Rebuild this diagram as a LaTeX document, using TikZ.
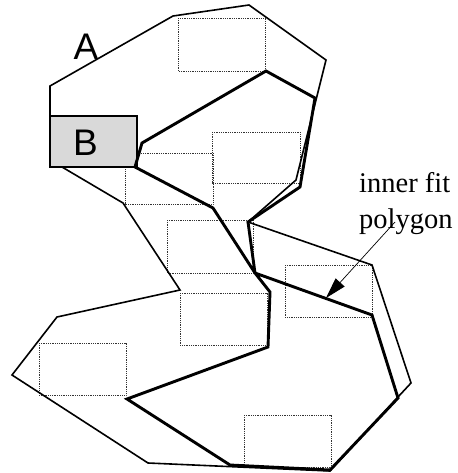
\documentclass[tikz,border=0pt]{standalone}
\usepackage{fontspec}
\setmainfont{Liberation Serif}
\newfontfamily\labelfont{Liberation Sans}
\usetikzlibrary{arrows.meta}
\begin{document}
\begin{tikzpicture}[x=1pt,y=-1pt,
  outline/.style={line width=1.6pt,line join=miter},
  fitpoly/.style={line width=2.9pt,line join=miter},
  slot/.style={draw=black!80,densely dotted,line width=0.8pt},
  bigletter/.style={font=\labelfont\fontsize{37}{44}\selectfont,inner sep=0pt,anchor=base},
  note/.style={font=\fontsize{28.5}{34}\selectfont,inner sep=0pt,anchor=base west}]
\useasboundingbox (0,0) rectangle (457,473);

% candidate placement slots
\draw[slot] (178,18) rectangle (265,71);
\draw[slot] (212,132) rectangle (300,183);
\draw[slot] (125,153) rectangle (213,204);
\draw[slot] (167,220) rectangle (253,273);
\draw[slot] (180,293) rectangle (267,345);
\draw[slot] (39,343) rectangle (126,395);
\draw[slot] (285,265) rectangle (372,317);
\draw[slot] (244,415) rectangle (331,467);

% container polygon A
\draw[outline] (50,86) -- (173,16) -- (249,5) -- (326,60) -- (296,180)
  -- (248,222) -- (372,265) -- (411,383) -- (398,397) -- (330,471)
  -- (148,463) -- (12,375) -- (57,317) -- (180,290) -- (123,203)
  -- (62,167) -- (50,167) -- cycle;

% piece B
\draw[line width=2.2pt,fill=black!15] (50,116) rectangle (137,167);
\node[bigletter] (labelB) at (85.5,155) {B};
\node[bigletter] (labelA) at (86,60) {A};

% inner fit polygon
\draw[fitpoly] (135,167) -- (142,143) -- (266,71) -- (315,98) -- (300,187)
  -- (248,222) -- (255,273) -- (372,315) -- (398,398) -- (330,470)
  -- (230,465) -- (127,399) -- (268,347) -- (270,292) -- (255,273)
  -- (213,208) -- cycle;

% annotation
\node[note] (note1) at (359,192) {inner fit};
\node[note] (note2) at (359,228) {polygon};
\coordinate (arrowstart) at (395,222);
\coordinate (arrowtip) at (326,298);
\draw[line width=0.7pt,-{Triangle[length=21pt,width=12pt]}] (arrowstart) -- (arrowtip);
\end{tikzpicture}
\end{document}
